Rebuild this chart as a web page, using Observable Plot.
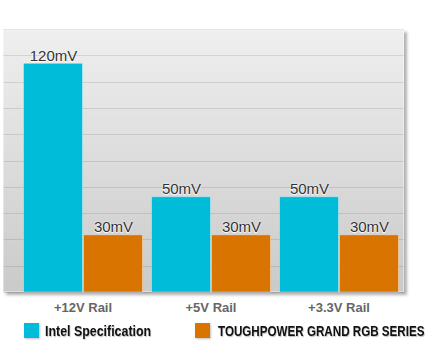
<!DOCTYPE html>
<html><head><meta charset="utf-8">
<script src="https://cdn.jsdelivr.net/npm/d3@7"></script>
<script src="https://cdn.jsdelivr.net/npm/@observablehq/plot@0.6"></script>
<style>
body{margin:0;background:#fff;font-family:"Liberation Sans",Arial,sans-serif;}
#chart{width:430px;}
#chart svg{display:block;}
#chart svg g[aria-label="text"] text{text-shadow:0 0 2px #fff,0 1px 1px #fff;}
#chart svg g[aria-label^="fx-axis"] text{font-size:13px;font-weight:bold;fill:#666;text-shadow:0 1px 1px #fff;}
#legend{position:relative;width:430px;height:41px;}
.item{position:absolute;top:7px;display:flex;align-items:center;height:15px;}
.sw{width:15px;height:15px;flex:none;box-shadow:1px 1px 2px rgba(0,0,0,.25);}
.lab{display:inline-block;font-family:"Liberation Sans",Arial,sans-serif;font-weight:bold;font-size:15.5px;color:#111;text-shadow:1px 1px 1px rgba(0,0,0,.25);white-space:nowrap;transform-origin:0 50%;}
</style></head><body><div id="chart"></div><script>
const rails = ["+12V Rail", "+5V Rail", "+3.3V Rail"];
const series = ["Intel Specification", "TOUGHPOWER GRAND RGB SERIES"];
const intelValues = [120, 50, 50];
const toughValues = [30, 30, 30];
const colors = ["#00bcd8", "#d97400"];
const unit = "mV";
const yMax = 138;
const gridCount = 10;

const data = rails.flatMap((r, i) => [
  {rail: r, series: series[0], value: intelValues[i]},
  {rail: r, series: series[1], value: toughValues[i]}
]);

const plot = Plot.plot({
  width: 430, height: 316,
  marginLeft: 22, marginRight: 31, marginTop: 29, marginBottom: 24,
  style: {fontFamily: '"Liberation Sans", Arial, sans-serif', background: "transparent"},
  fx: {domain: rails, paddingInner: 0.055, paddingOuter: 0, label: null},
  x: {domain: series, padding: 0, axis: null},
  y: {domain: [0, yMax], axis: null},
  color: {domain: series, range: colors},
  marks: [
    Plot.axisFx({anchor: "bottom", tickSize: 0, tickPadding: 10, fontSize: 13, fontWeight: "bold", fill: "#666", label: null}),
    Plot.barY(data, {fx: "rail", x: "series", y: "value", fill: "series", insetLeft: 0.5, insetRight: 0.5, stroke: "#fff", strokeOpacity: 0.35}),
    Plot.text(data, {fx: "rail", x: "series", y: "value", text: d => d.value + unit, dy: -3, lineAnchor: "bottom", fontSize: 15, fill: "#333"})
  ]
});

// background panel with gradient, shadow and grid lines
const ys = plot.scale("y");
const frameLeft = 3, frameRight = 404;
const panelTop = ys.apply(yMax), panelBottom = ys.apply(0);
const svg = d3.select(plot);
const defs = svg.insert("defs", ":first-child");
const grad = defs.append("linearGradient").attr("id", "bgGrad").attr("x1", 0).attr("y1", 0).attr("x2", 0).attr("y2", 1);
grad.append("stop").attr("offset", "0%").attr("stop-color", "#efefef");
grad.append("stop").attr("offset", "100%").attr("stop-color", "#cacaca");
const filt = defs.append("filter").attr("id", "sh").attr("x", "-5%").attr("y", "-5%").attr("width", "115%").attr("height", "115%");
filt.append("feDropShadow").attr("dx", 3).attr("dy", 3).attr("stdDeviation", 1.5).attr("flood-color", "#000").attr("flood-opacity", 0.3);
const bg = svg.insert("g", "defs + *");
bg.append("rect").attr("x", frameLeft).attr("y", panelTop).attr("width", frameRight - frameLeft).attr("height", panelBottom - panelTop)
  .attr("fill", "url(#bgGrad)").attr("filter", "url(#sh)");
bg.selectAll("line").data(d3.range(gridCount + 1).map(i => yMax * i / gridCount)).join("line")
  .attr("x1", frameLeft).attr("x2", frameRight)
  .attr("y1", d => Math.round(ys.apply(d)) + 0.5).attr("y2", d => Math.round(ys.apply(d)) + 0.5)
  .attr("stroke", "#000").attr("stroke-opacity", 0.1);
bg.append("rect").attr("x", frameLeft + 0.5).attr("y", panelTop + 0.5).attr("width", frameRight - frameLeft - 1).attr("height", panelBottom - panelTop - 1)
  .attr("fill", "none").attr("stroke", "#fff").attr("stroke-opacity", 0.4);

document.getElementById("chart").appendChild(plot);

// legend
const legend = document.createElement("div");
legend.id = "legend";
const itemLefts = [24, 195];
const labelSqueeze = [0.8, 0.75];
series.forEach((s, i) => {
  const it = document.createElement("div");
  it.className = "item";
  it.style.left = itemLefts[i] + "px";
  const sw = document.createElement("div");
  sw.className = "sw";
  sw.style.background = colors[i];
  const lab = document.createElement("span");
  lab.className = "lab";
  lab.style.marginLeft = (i === 0 ? 6 : 8) + "px";
  lab.style.transform = `scaleX(${labelSqueeze[i]})`;
  lab.textContent = s;
  it.appendChild(sw); it.appendChild(lab);
  legend.appendChild(it);
});
document.getElementById("chart").appendChild(legend);
</script></body></html>
